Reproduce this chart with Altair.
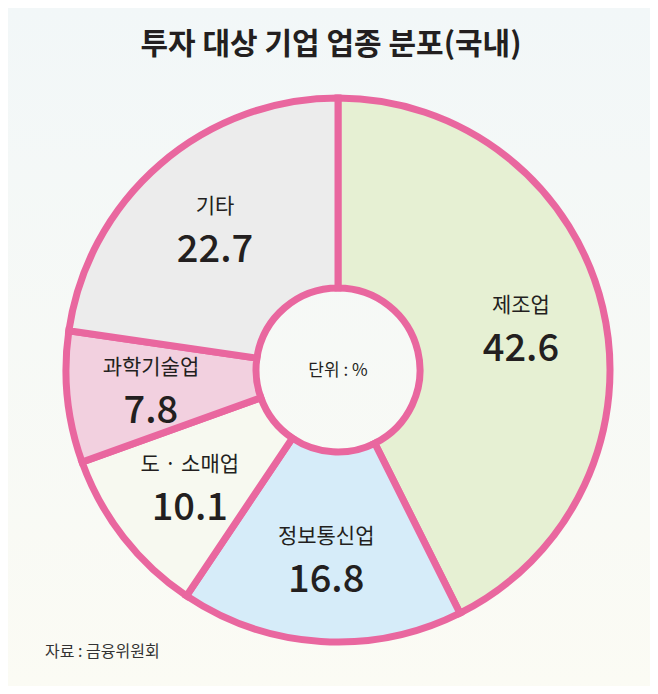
import altair as alt
import pandas as pd

categories = ["제조업", "정보통신업", "도 · 소매업", "과학기술업", "기타"]
values = [42.6, 16.8, 10.1, 7.8, 22.7]
value_labels = ["42.6", "16.8", "10.1", "7.8", "22.7"]
palette = ["#e6f0d3", "#d6ecf9", "#f7f9f0", "#f2d0df", "#ececec"]

title_text = "투자 대상 기업 업종 분포(국내)"
center_text = "단위 : %"
source_text = "자료 : 금융위원회"

W, H = 642, 678
CX, CY = 330, 362
FONT = "Noto Sans CJK KR"
INK = "#231f20"
PINK = "#e9679f"

df = pd.DataFrame({
    "cat": categories,
    "value": values,
    "label": value_labels,
    "idx": list(range(len(categories))),
})

bg = alt.Chart(pd.DataFrame({"a": [0]})).mark_rect(
    color=alt.LinearGradient(
        gradient="linear", x1=0, y1=0, x2=0, y2=1,
        stops=[alt.GradientStop(color="#f2f7f8", offset=0),
               alt.GradientStop(color="#fbfbf4", offset=1)],
    )
).encode(x=alt.value(0), x2=alt.value(W), y=alt.value(0), y2=alt.value(H))

base = alt.Chart(df).encode(
    theta=alt.Theta("value:Q", stack=True),
    order=alt.Order("idx:Q"),
)

arcs = base.mark_arc(
    outerRadius=272, innerRadius=82, stroke=PINK, strokeWidth=7,
).encode(
    color=alt.Color("cat:N", sort=categories,
                    scale=alt.Scale(domain=categories, range=palette), legend=None),
    x=alt.value(CX), y=alt.value(CY),
)

names = base.mark_text(
    radius=188, dy=-21, font=FONT, fontSize=21, color=INK,
).encode(text="cat:N", x=alt.value(CX), y=alt.value(CY))

nums = base.mark_text(
    radius=188, dy=23, font=FONT, fontSize=38, fontWeight=500, color=INK,
).encode(text="label:N", x=alt.value(CX), y=alt.value(CY))

one = pd.DataFrame({"t": [title_text], "c": [center_text], "s": [source_text]})
title = alt.Chart(one).mark_text(
    font=FONT, fontSize=30, fontWeight="bold", color=INK, align="center", baseline="middle",
).encode(text="t:N", x=alt.value(323), y=alt.value(37))

center = alt.Chart(one).mark_text(
    font=FONT, fontSize=17, color=INK, align="center", baseline="middle",
).encode(text="c:N", x=alt.value(CX), y=alt.value(CY + 1))

source = alt.Chart(one).mark_text(
    font=FONT, fontSize=16, color="#333333", align="left", baseline="middle",
).encode(text="s:N", x=alt.value(37), y=alt.value(644))

chart = alt.layer(bg, arcs, names, nums, title, center, source).properties(
    width=W, height=H, autosize=alt.AutoSizeParams(type="none"), padding=0,
).configure_view(stroke=None).configure(background="#f5f9f6")

chart.save("out.html", embed_options={"renderer": "svg", "actions": False})
